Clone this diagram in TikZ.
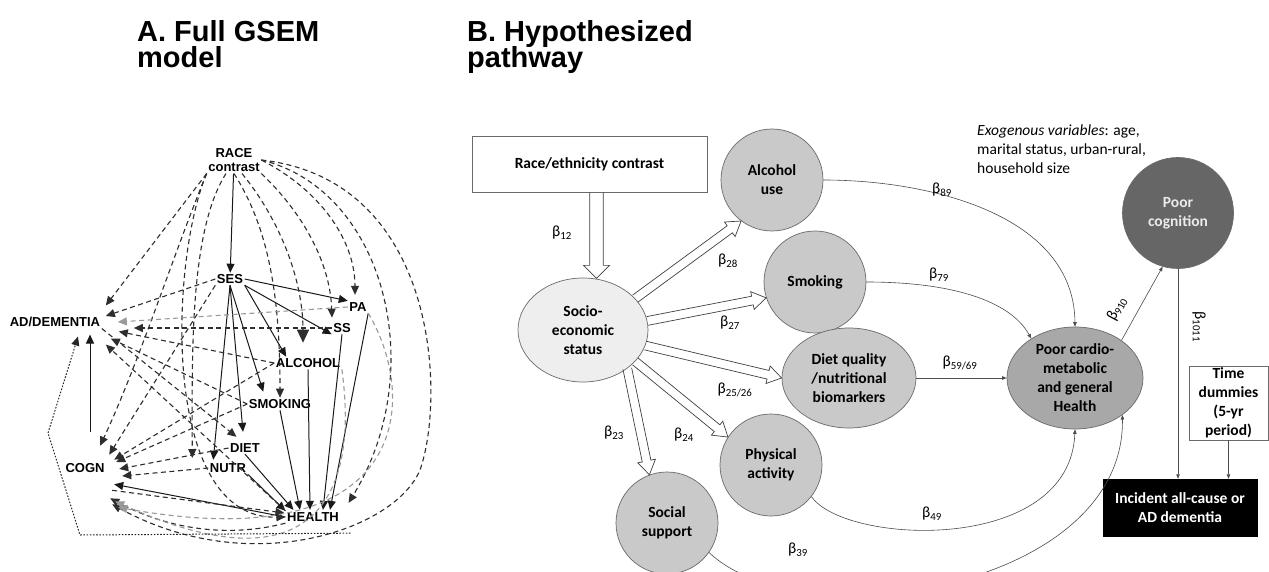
\documentclass[tikz,border=0pt]{standalone}
\usepackage{fontspec}
\setmainfont{Carlito}
\newfontfamily\robfont{Liberation Sans}
\usetikzlibrary{arrows.meta,calc,shapes.geometric}
\definecolor{lgray}{HTML}{C9C9C9}
\definecolor{vlgray}{HTML}{EEEEEE}
\definecolor{mgray}{HTML}{A8A8A8}
\definecolor{dgray}{HTML}{666666}
\definecolor{edgec}{HTML}{6A6A6A}
\newcommand\bt[1]{β\textsubscript{#1}}
\newcommand\harrow[5]{%
  \coordinate (hA) at (#1);
  \coordinate (hB) at (#2);
  \coordinate (hH) at ($(hB)!#5!(hA)$);
  \draw[hol] ($(hA)!#3!90:(hB)$) -- ($(hH)!#3!-90:(hA)$) -- ($(hH)!#4!-90:(hA)$) -- (hB) -- ($(hH)!#4!90:(hA)$) -- ($(hH)!#3!90:(hA)$) -- ($(hA)!#3!-90:(hB)$);
}
\begin{document}
\begin{tikzpicture}[x=1pt,y=-1pt,
  title/.style={font=\robfont\bfseries\fontsize{29}{30}\selectfont, anchor=base west, inner sep=0pt},
  an/.style={font=\robfont\bfseries\fontsize{13}{14.5}\selectfont, inner sep=1.5pt, align=center},
  tipA/.style={-{Triangle[length=9pt,width=8pt]}},
  bigtip/.style={-{Triangle[length=13pt,width=12pt]}},
  sol/.style={draw=black!90, line width=1pt, tipA},
  dsh/.style={draw=black!82, line width=1.1pt, dash pattern=on 5pt off 3.5pt, tipA},
  ldsh/.style={dsh, draw=black!40},
  dtt/.style={draw=black!85, line width=1pt, dash pattern=on 1.6pt off 1.6pt, tipA},
  bn/.style={font=\bfseries\fontsize{15.5}{19}\selectfont, align=center, text=black},
  sm/.style={circle, draw=edgec, line width=0.7pt, fill=lgray, minimum size=102pt, inner sep=0pt, bn},
  bl/.style={font=\fontsize{15.5}{19}\selectfont, inner sep=0pt},
  thn/.style={draw=black!70, line width=0.6pt, -{Triangle[length=4.5pt,width=3.5pt]}},
  hol/.style={draw=black!75, line width=0.7pt, line join=miter}
]
\useasboundingbox[fill=white] (0,0) rectangle (1269,572);

% ---------------- titles ----------------
\node[title] (tA1) at (137,42) {A. Full GSEM};
\node[title] (tA2) at (137,68) {model};
\node[title] (tB1) at (467,42) {B. Hypothesized};
\node[title] (tB2) at (467,68) {pathway};

% ---------------- panel A nodes ----------------
\node[an] (race) at (234,160) {RACE\\contrast};
\node[an] (ses) at (230,279) {SES};
\node[an] (pa) at (358,307) {PA};
\node[an] (ss) at (342,328) {SS};
\node[an] (ad) at (55,322) {AD/DEMENTIA};
\node[an] (alc) at (308,363) {ALCOHOL};
\node[an] (smk) at (280,404) {SMOKING};
\node[an] (diet) at (245,448) {DIET};
\node[an] (nutr) at (228,468) {NUTR};
\node[an] (cogn) at (85,468) {COGN};
\node[an] (hlth) at (313,517) {HEALTH};

% ---------------- panel A solid ----------------
\draw[sol] (race) -- (ses);
\draw[sol] (ses.east) -- (pa.north west);
\draw[sol] (ses.south east) -- (ss.south west);
\draw[sol] (ses.south east) -- ($(alc.north west)+(12,0)$);
\draw[sol] (ses.south) -- ($(smk.north west)+(16,-6)$);
\draw[sol] (ses.south) -- ($(diet.north)+(-2,-10)$);
\draw[sol] (ses.south) -- ($(nutr.north west)+(5,-2)$);
\draw[sol] ($(cogn.north)+(5,-30)$) -- ($(ad.south)+(35,6)$);
\draw[sol] (hlth.west) -- ($(cogn.south east)+(8,10)$);
\draw[sol] (nutr.south east) -- (hlth.north west);
\draw[sol] (diet.south) -- ($(hlth.north west)+(8,-1)$);
\draw[sol] (smk.south) -- ($(hlth.north)+(-13,-1)$);
\draw[sol] (alc.south) -- ($(hlth.north)+(-3,-1)$);
\draw[sol] (ss.south) -- ($(hlth.north)+(10,-1)$);
\draw[sol] (pa.south east) -- ($(hlth.north)+(17,-1)$);

% ---------------- panel A dashed from RACE ----------------
\draw[dsh] (race.south west) -- ($(ad.north east)+(4,-10)$);
\draw[dsh] (race.south west) .. controls (175,250) and (140,360) .. ($(cogn.north east)+(-6,-16)$);
\draw[dsh] ($(race.south)+(-8,0)$) .. controls (190,230) and (192,350) .. ($(nutr.west)+(-16,-10)$);
\draw[dsh] (race.south west) .. controls (170,260) and (160,520) .. (hlth.west);
\draw[dsh] (race.south) .. controls (270,230) and (280,300) .. (smk.north);
\draw[dsh,bigtip] ($(race.south)+(8,0)$) .. controls (280,220) and (303,280) .. ($(alc.north)+(-5,-14)$);
\draw[dsh] (race.south east) .. controls (300,210) and (330,260) .. ($(ss.north)+(-10,-4)$);
\draw[dsh] (race.east) .. controls (320,190) and (355,240) .. ($(pa.north)+(-3,-6)$);
\draw[dsh] (race.east) .. controls (385,190) and (430,370) .. ($(hlth.north east)+(8,-8)$);
\draw[dsh] (race.east) .. controls (440,180) and (445,400) .. (420,470) .. controls (395,530) and (250,580) .. ($(cogn.south east)+(6,30)$);

% ---------------- panel A dashed into AD/DEMENTIA ----------------
\draw[dsh] (ses.west) -- ($(ad.east)+(4,-6)$);
\draw[ldsh] (pa.west) -- ($(ad.east)+(16,0)$);
\draw[dsh] (ss.west) -- ($(ad.east)+(32,6)$);
\draw[dsh] (alc.west) -- ($(ad.south east)+(17,3)$);
\draw[dsh] (smk.west) -- ($(ad.south east)+(9,10)$);
\draw[dsh] (hlth.north west) -- ($(ad.south east)+(4,16)$);
\draw[dsh] (ad.south east) -- ($(diet.north west)+(8,-5)$);

% ---------------- panel A dashed into COGN ----------------
\draw[dsh] (ses.south west) -- ($(cogn.north east)+(3,-7)$);
\draw[dsh] (alc.west) -- ($(cogn.north east)+(8,-2)$);
\draw[dsh] (smk.west) -- ($(cogn.east)+(10,-6)$);
\draw[dsh] (diet.west) -- ($(cogn.east)+(13,1)$);
\draw[dsh] (nutr.west) -- ($(cogn.east)+(16,8)$);
\draw[dsh] ($(cogn.south east)+(6,16)$) -- ($(hlth.west)+(-1,-4)$);
\draw[dsh] (hlth.south west) .. controls (220,540) and (160,525) .. ($(cogn.south east)+(4,24)$);
\draw[ldsh] (alc.south east) .. controls (360,500) and (310,590) .. ($(cogn.south east)+(9,27)$);
\draw[ldsh] (pa.south east) .. controls (420,400) and (410,560) .. ($(cogn.south east)+(12,33)$);

% ---------------- panel A dotted ----------------
\draw[dtt] ($(hlth.south east)+(10,10)$) -- (80,535) -- (48,433) -- ($(ad.south)+(23,8)$);

% ---------------- panel B nodes ----------------
\node[draw=edgec, line width=0.7pt, fill=white, minimum width=235pt, minimum height=56pt, bn] (race2) at (589.5,164) {Race/ethnicity contrast};
\node[ellipse, draw=edgec, line width=0.7pt, fill=vlgray, minimum width=130pt, minimum height=104pt, inner sep=0pt, bn] (ses2) at (583,330) {Socio-\\economic\\status};
\node[sm] (alc2) at (772,180) {Alcohol\\use};
\node[sm] (smk2) at (815,282) {Smoking};
\node[ellipse, draw=edgec, line width=0.7pt, fill=lgray, minimum width=134pt, minimum height=100pt, inner sep=0pt, bn] (diet2) at (849,378) {Diet quality\\/nutritional\\biomarkers};
\node[sm] (pa2) at (771,465) {Physical\\activity};
\node[sm] (soc2) at (667,523) {Social\\support};
\node[ellipse, draw=edgec, line width=0.7pt, fill=mgray, minimum width=136pt, minimum height=102pt, inner sep=0pt, bn] (card) at (1075,378) {Poor cardio-\\metabolic\\and general\\Health};
\node[circle, draw=edgec, line width=0.7pt, fill=dgray, minimum size=111pt, inner sep=0pt, bn, text=black!8] (cog2) at (1178,213) {Poor\\cognition};
\node[draw=edgec, line width=0.7pt, fill=white, minimum width=79pt, minimum height=74pt, inner sep=0pt, bn] (time) at (1228.5,403) {Time\\dummies\\(5-yr\\period)};
\node[draw=black, fill=black, minimum width=154pt, minimum height=57pt, inner sep=0pt, bn, text=white] (inc) at (1180,507.5) {Incident all-cause or\\AD dementia};

% exogenous text
\node[bl, anchor=base west] (ex1) at (977,136) {\textit{Exogenous variables}: age,};
\node[bl, anchor=base west] (ex2) at (977,155) {marital status, urban-rural,};
\node[bl, anchor=base west] (ex3) at (977,174) {household size};

% hollow arrows
\harrow{$(race2.south)+(7,0)$}{$(race2.south)+(7,86)$}{6.7pt}{13pt}{13pt}
\harrow{ses2.31}{alc2.233}{4.4pt}{9pt}{14pt}
\harrow{ses2.8}{smk2.198}{4.4pt}{9pt}{14pt}
\harrow{ses2.-14}{diet2.west}{4.4pt}{9pt}{14pt}
\harrow{ses2.-31}{pa2.147}{4.4pt}{9pt}{14pt}
\harrow{ses2.-41}{soc2.110}{4.4pt}{9pt}{14pt}

% thin arrows
\draw[thn] (alc2.east) .. controls (930,180) and (1074,215) .. (card.north);
\draw[thn] (smk2.east) .. controls (950,282) and (1010,300) .. (card.138);
\draw[thn] (diet2.east) -- (diet2.east -| card.west);
\draw[thn] (pa2.-38) .. controls (845,545) and (1070,555) .. (card.south);
\draw[thn] (soc2.-35) .. controls (800,640) and (1125,590) .. (card.-38);
\draw[thn] (card.39) -- (cog2.254);
\draw[thn] (cog2.south) -- (cog2.south |- inc.north);
\draw[thn] (time.south) -- (time.south |- inc.north);

% beta labels
\node[bl] (b12) at (562,233) {\bt{12}};
\node[bl] (b28) at (728,261) {\bt{28}};
\node[bl] (b27) at (730,323) {\bt{27}};
\node[bl] (b2526) at (735,390) {\bt{25/26}};
\node[bl] (b24) at (684,435) {\bt{24}};
\node[bl] (b23) at (614,433) {\bt{23}};
\node[bl] (b89) at (942,190) {\bt{89}};
\node[bl] (b79) at (939,275) {\bt{79}};
\node[bl] (b5969) at (960,363) {\bt{59/69}};
\node[bl] (b49) at (932,514) {\bt{49}};
\node[bl] (b39) at (798,550) {\bt{39}};
\node[bl, rotate=62] (b910) at (1117,309) {\bt{910}};
\node[bl, rotate=-90] (b1011) at (1199,327) {\bt{1011}};
\end{tikzpicture}
\end{document}
